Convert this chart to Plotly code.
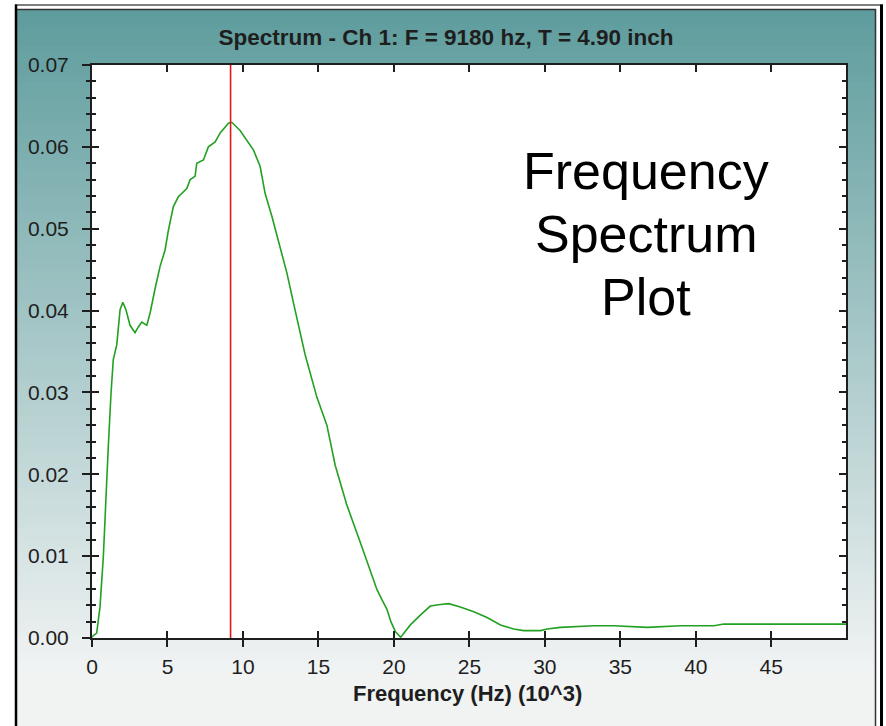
import plotly.graph_objects as go

# ---------------- data ----------------
freq_khz = [0.0, 0.09, 0.31, 0.53, 0.75, 0.93, 1.08, 1.26, 1.41, 1.64,
            1.86, 2.04, 2.25, 2.52, 2.85, 3.07, 3.30, 3.63, 3.85, 4.18,
            4.51, 4.84, 5.06, 5.39, 5.72, 6.28, 6.50, 6.83, 6.94, 7.38,
            7.71, 8.16, 8.49, 9.04, 9.26, 9.81, 10.26, 10.70, 11.14, 11.47,
            11.92, 12.47, 12.91, 13.35, 13.79, 14.12, 14.90, 15.56, 16.11, 16.89,
            17.77, 18.32, 18.88, 19.23, 19.54, 19.80, 20.09, 20.45, 21.09, 21.75,
            22.41, 23.08, 23.63, 24.40, 25.29, 26.17, 27.06, 27.94, 28.60, 29.71,
            30.15, 31.03, 32.36, 33.24, 34.57, 36.78, 38.99, 41.20, 41.86, 43.42,
            50.0]
amplitude = [0.0001, 0.0003, 0.0006, 0.0038, 0.0099, 0.0185, 0.0234, 0.0299, 0.0340, 0.0358,
             0.0401, 0.0410, 0.0401, 0.0382, 0.0373, 0.0380, 0.0386, 0.0382, 0.0397, 0.0427,
             0.0454, 0.0474, 0.0498, 0.0527, 0.0539, 0.0549, 0.0560, 0.0564, 0.0580, 0.0584,
             0.0600, 0.0606, 0.0617, 0.0629, 0.0630, 0.0620, 0.0608, 0.0596, 0.0576, 0.0543,
             0.0515, 0.0478, 0.0446, 0.0409, 0.0372, 0.0346, 0.0294, 0.0260, 0.0211, 0.0162,
             0.0117, 0.0089, 0.0059, 0.0046, 0.0035, 0.0020, 0.0008, 0.0001, 0.0016, 0.0028,
             0.0039, 0.0041, 0.0042, 0.0038, 0.0032, 0.0025, 0.0016, 0.0011, 0.0009, 0.0009,
             0.0011, 0.0013, 0.0014, 0.0015, 0.0015, 0.0013, 0.0015, 0.0015, 0.0017, 0.0017,
             0.0017]
marker_freq = 9.18          # F = 9180 hz
x_tick_vals = [0, 5, 10, 15, 20, 25, 30, 35, 40, 45]
x_tick_text = ["0", "5", "10", "15", "20", "25", "30", "35", "40", "45"]
y_tick_vals = [0.00, 0.01, 0.02, 0.03, 0.04, 0.05, 0.06, 0.07]
title_text = "Spectrum - Ch 1: F = 9180 hz, T = 4.90 inch"
x_title = "Frequency (Hz) (10^3)"
note_lines = ["Frequency", "Spectrum", "Plot"]

# ---------------- layout geometry ----------------
W, H = 886, 726
L, T, PW, PH = 92, 65, 754, 573
X_MAX = 49.95
Y_MAX = 0.07
FONT = "Liberation Sans, Arial, sans-serif"
INK = "#1e1e1e"


def px(x):
    return (x - L) / PW


def py(y):
    return (T + PH - y) / PH


fig = go.Figure()
fig.add_trace(go.Scatter(x=freq_khz, y=amplitude, mode="lines",
                         line=dict(color="#23a023", width=1.6),
                         xaxis="x", yaxis="y", showlegend=False,
                         hoverinfo="skip"))
fig.add_trace(go.Scatter(x=[marker_freq, marker_freq], y=[0, Y_MAX], mode="lines",
                         line=dict(color="#e8141a", width=1.6),
                         xaxis="x2", yaxis="y2", showlegend=False,
                         hoverinfo="skip"))

shapes = []
# gradient background (teal -> light grey)
top_c = (94, 156, 157)
bot_c = (241, 243, 243)
g_top, g_bot = 10, 726
N = 120
step = (g_bot - g_top) / N
for i in range(N):
    t = min(1.0, (i + 0.5) / N * 1.08)
    c = tuple(int(round(top_c[k] + (bot_c[k] - top_c[k]) * t)) for k in range(3))
    y0 = g_top + i * step
    y1 = y0 + step + 0.8
    shapes.append(dict(type="rect", xref="paper", yref="paper",
                       x0=px(17), x1=px(875), y0=py(y1), y1=py(y0),
                       fillcolor="rgb(%d,%d,%d)" % c, line=dict(width=0),
                       layer="below"))
# white plot area
shapes.append(dict(type="rect", xref="paper", yref="paper", x0=0, x1=1, y0=0, y1=1,
                   fillcolor="white", line=dict(width=0), layer="below"))


# frame lines
def hline(x0, x1, y, color, w):
    shapes.append(dict(type="line", xref="paper", yref="paper",
                       x0=px(x0), x1=px(x1), y0=py(y), y1=py(y),
                       line=dict(color=color, width=w), layer="below"))


def vline(x, y0, y1, color, w):
    shapes.append(dict(type="line", xref="paper", yref="paper",
                       x0=px(x), x1=px(x), y0=py(y0), y1=py(y1),
                       line=dict(color=color, width=w), layer="below"))


hline(15, 883, 5, "#555555", 1.5)
hline(17, 876, 9.5, "#333333", 1.5)
vline(16, 4.5, 726, "#000000", 2.5)
vline(875.5, 9, 726, "#333333", 1.5)
vline(881.5, 4.5, 726, "#000000", 3)

annotations = []
for txt, yc in zip(note_lines, [171, 234, 297]):
    annotations.append(dict(text=txt, xref="paper", yref="paper",
                            x=px(646), y=py(yc), xanchor="center", yanchor="middle",
                            showarrow=False, font=dict(family=FONT, size=52, color="#000000")))
annotations.append(dict(text="<b>%s</b>" % x_title, xref="paper", yref="paper",
                        x=px(467), y=py(693), xanchor="center", yanchor="middle",
                        showarrow=False, font=dict(family=FONT, size=22, color=INK)))

axis_common = dict(showgrid=False, zeroline=False)

fig.update_layout(
    width=W, height=H,
    margin=dict(l=L, r=W - L - PW, t=T, b=H - T - PH, pad=0),
    paper_bgcolor="white", plot_bgcolor="white",
    title=dict(text="<b>%s</b>" % title_text, x=446 / W, xref="container", xanchor="center",
               y=1 - 37 / H, yref="container", yanchor="middle",
               font=dict(family=FONT, size=22.5, color=INK)),
    shapes=shapes, annotations=annotations,
    xaxis=dict(range=[0, X_MAX], tickmode="array", tickvals=x_tick_vals, ticktext=x_tick_text,
               ticks="outside", ticklen=7, tickwidth=1.5, tickcolor=INK,
               showline=True, linecolor=INK, linewidth=2, mirror=True,
               tickfont=dict(family=FONT, size=21, color=INK), ticklabelstandoff=2,
               **axis_common),
    yaxis=dict(range=[0, Y_MAX], tickmode="array", tickvals=y_tick_vals, tickformat=".2f",
               ticks="outside", ticklen=8, tickwidth=1.5, tickcolor=INK,
               minor=dict(ticks="outside", ticklen=4, dtick=0.002, tickwidth=1.5, tickcolor=INK),
               showline=True, linecolor=INK, linewidth=2, mirror=True,
               tickfont=dict(family=FONT, size=21, color=INK), ticklabelstandoff=9,
               **axis_common),
    xaxis2=dict(range=[0, X_MAX], overlaying="x", anchor="y2", side="bottom",
                tickmode="array", tickvals=x_tick_vals,
                ticks="inside", ticklen=7, tickwidth=1.5, tickcolor=INK,
                mirror="ticks", showline=False, showticklabels=False, **axis_common),
    yaxis2=dict(range=[0, Y_MAX], overlaying="y", anchor="x2", side="left",
                tickmode="array", tickvals=y_tick_vals,
                ticks="inside", ticklen=7, tickwidth=1.5, tickcolor=INK,
                minor=dict(ticks="inside", ticklen=4, dtick=0.002, tickwidth=1.5, tickcolor=INK),
                mirror="ticks", showline=False, showticklabels=False, **axis_common),
)

fig.write_html("out.html")
